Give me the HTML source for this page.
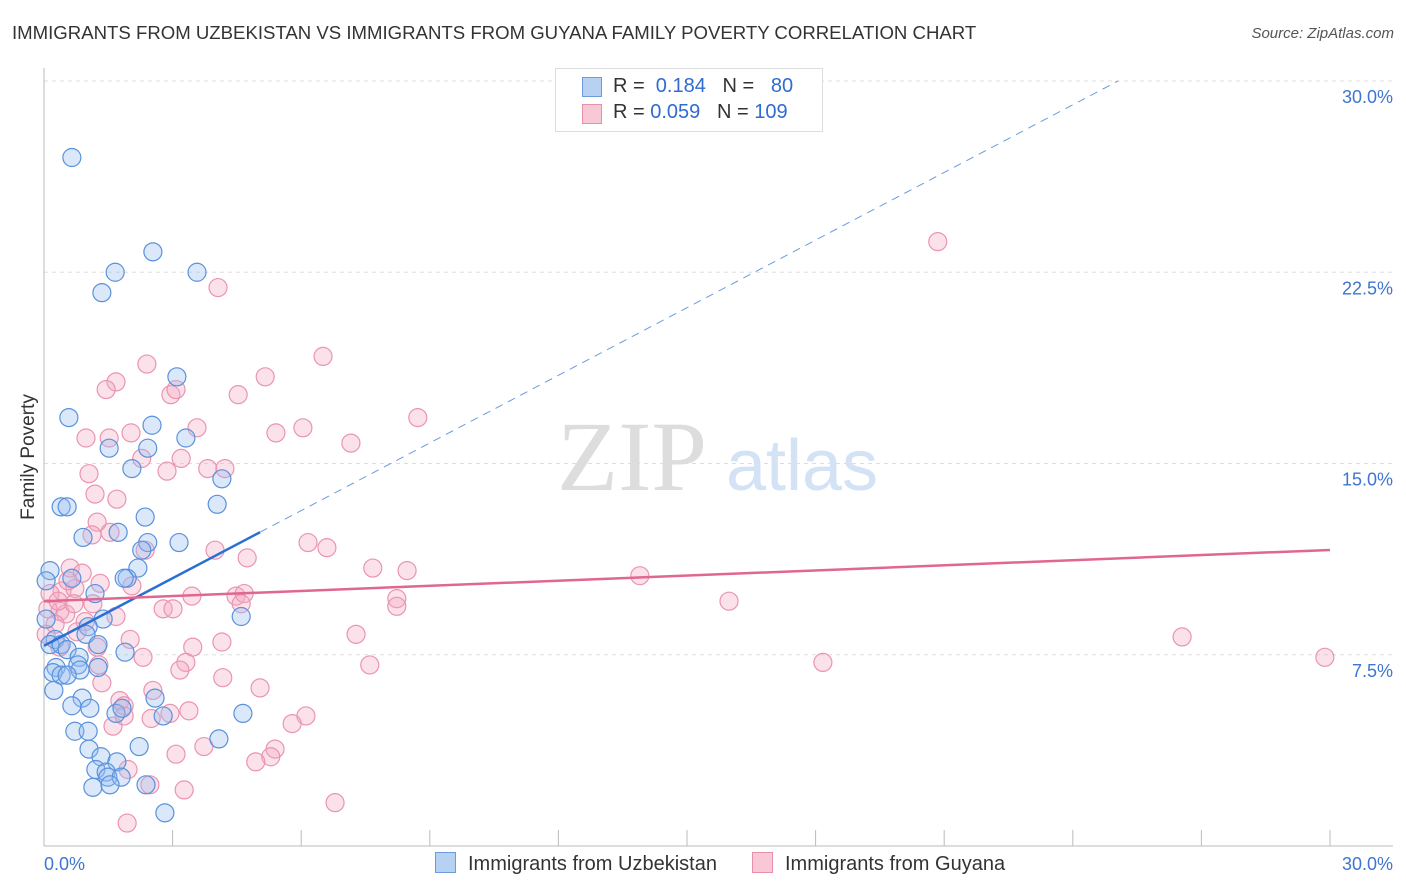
<!DOCTYPE html>
<html><head><meta charset="utf-8"><style>
body{margin:0;background:#fff;font-family:"Liberation Sans",sans-serif}
#c{position:relative;width:1406px;height:892px;overflow:hidden}
.t{position:absolute;white-space:nowrap}
</style></head><body>
<div id="c">
<div class="t" style="left:12px;top:22px;font-size:18.6px;color:#333">IMMIGRANTS FROM UZBEKISTAN VS IMMIGRANTS FROM GUYANA FAMILY POVERTY CORRELATION CHART</div>
<div class="t" style="right:12px;top:25px;font-size:15px;color:#555;font-style:italic">Source: ZipAtlas.com</div>
<svg id="s" width="1406" height="892" style="position:absolute;left:0;top:0"></svg>
</div>
<script>
const xMax=30, yMax=30;
const yTicks=[7.5,15,22.5,30];
const yTickLabels=["7.5%","15.0%","22.5%","30.0%"];
const xTickLabels=["0.0%","30.0%"];
const blueX=[0.65,2.54,1.66,3.57,1.35,3.1,0.58,2.52,3.31,2.42,1.52,2.05,4.15,4.04,0.4,0.54,2.36,1.73,0.91,3.15,2.42,2.28,2.19,1.94,1.87,0.14,0.65,1.19,4.6,1.38,1.03,0.98,0.26,0.14,0.4,1.26,0.54,1.89,0.82,0.79,0.28,0.21,0.84,0.4,0.54,1.26,0.23,0.89,0.65,2.59,1.07,1.68,1.82,2.78,4.64,0.72,1.03,4.08,1.05,2.22,1.33,1.7,1.21,1.45,1.49,1.8,1.14,1.54,2.38,2.82,0.05,0.05];
const blueY=[27.0,23.3,22.5,22.5,21.7,18.4,16.8,16.5,16.0,15.6,15.6,14.8,14.4,13.4,13.3,13.3,12.9,12.3,12.1,11.9,11.9,11.6,10.9,10.5,10.5,10.8,10.5,9.9,9.0,8.9,8.6,8.3,8.1,7.9,7.9,7.9,7.7,7.6,7.4,7.1,7.0,6.8,6.9,6.7,6.7,7.0,6.1,5.8,5.5,5.8,5.4,5.2,5.4,5.1,5.2,4.5,4.5,4.2,3.8,3.9,3.5,3.3,3.0,2.9,2.7,2.7,2.3,2.4,2.4,1.3,8.9,10.4];
const pinkX=[20.85,4.06,6.51,2.4,5.16,1.68,1.45,2.96,3.08,4.53,8.72,0.98,1.52,2.03,3.57,5.41,6.04,7.16,2.28,3.2,1.05,2.87,3.82,4.22,1.19,1.7,1.24,1.12,1.54,2.36,3.99,4.74,6.16,6.6,7.67,8.47,13.9,0.61,0.89,1.31,2.05,0.42,0.14,0.72,3.45,4.48,4.67,8.23,8.23,15.98,1.14,0.37,0.51,1.68,2.78,3.01,4.6,0.26,0.96,7.28,26.55,2.01,4.15,0.37,1.24,3.47,2.31,3.31,1.28,7.6,18.17,29.88,3.17,4.17,1.35,2.54,5.04,1.77,1.87,3.38,2.94,6.11,5.79,1.61,1.87,2.5,3.73,3.08,5.39,5.29,4.94,1.96,2.47,3.27,6.79,1.94,0.56,0.09,0.05,0.33,0.77,0.7];
const pinkY=[23.7,21.9,19.2,18.9,18.4,18.2,17.9,17.7,17.9,17.7,16.8,16.0,16.0,16.2,16.4,16.2,16.4,15.8,15.2,15.2,14.6,14.7,14.8,14.8,13.8,13.6,12.7,12.2,12.3,11.6,11.6,11.3,11.9,11.7,10.9,10.8,10.6,10.9,10.7,10.3,10.2,10.0,9.9,10.1,9.8,9.8,9.9,9.7,9.4,9.6,9.5,9.2,9.1,9.0,9.3,9.3,9.5,8.7,8.8,8.3,8.2,8.1,8.0,7.8,7.8,7.8,7.4,7.2,7.1,7.1,7.2,7.4,6.9,6.6,6.4,6.1,6.2,5.7,5.5,5.3,5.2,5.1,4.8,4.7,5.1,5.0,3.9,3.6,3.8,3.5,3.3,3.0,2.4,2.2,1.7,0.9,10.4,9.3,8.3,9.6,8.4,9.5];
const blueTrend=[7.85,0.884], pinkTrend=[9.6,0.067];
const X0=44,X1=1330,Y0=846,Y1=81;
const sx=v=>X0+v/xMax*(X1-X0), sy=v=>Y0-v/yMax*(Y0-Y1);
const s=document.getElementById('s');const NS='http://www.w3.org/2000/svg';
function mk(t,a){const e=document.createElementNS(NS,t);for(const k in a)e.setAttribute(k,a[k]);s.appendChild(e);return e;}
yTicks.forEach((v,i)=>{
 const g=mk('line',{x1:44,x2:1393,y1:sy(v),y2:sy(v),stroke:'#ddd','stroke-dasharray':'4,4'});
 
 
 const t=mk('text',{x:1393,y:sy(v)+22,'text-anchor':'end','font-size':18,fill:'#3f75d0'});t.textContent=yTickLabels[i];
 
 
});
const ax=mk('line',{x1:44,x2:44,y1:68,y2:846,stroke:'#bbb'});


const bx=mk('line',{x1:44,x2:1393,y1:846,y2:846,stroke:'#bbb'});


for(let i=0;i<=10;i++){const x=sx(i*3);const tk=mk('line',{x1:x,x2:x,y1:830,y2:846,stroke:'#bbb'});
 
 }
[[0,44,'start'],[1,1393,'end']].forEach(([i,x,a])=>{const t=mk('text',{x:x,y:870,'text-anchor':a,'font-size':18,fill:'#3f75d0'});t.textContent=xTickLabels[i];
 
 });
const yt=mk('text',{x:34,y:457,'text-anchor':'middle','font-size':19,fill:'#333',transform:'rotate(-90 34 457)'});yt.textContent='Family Poverty';


const w1=mk('text',{x:632,y:490,'text-anchor':'middle','font-size':100,fill:'#ddd','font-family':'Liberation Serif'});w1.textContent='ZIP';


const w2=mk('text',{x:802,y:490,'text-anchor':'middle','font-size':72,fill:'#d4e2f5'});w2.textContent='atlas';


pinkX.forEach((x,i)=>{const c=mk('circle',{cx:sx(x),cy:sy(pinkY[i]),r:9,fill:'rgba(244,170,195,0.35)',stroke:'#eb94b2','stroke-width':1.2});
 
 });
blueX.forEach((x,i)=>{const c=mk('circle',{cx:sx(x),cy:sy(blueY[i]),r:9,fill:'rgba(150,190,240,0.35)',stroke:'#5a91dc','stroke-width':1.2});
 
 });
const xe=5.04, xd=(yMax-blueTrend[0])/blueTrend[1];
const l1=mk('line',{x1:sx(0),y1:sy(blueTrend[0]),x2:sx(xe),y2:sy(blueTrend[0]+blueTrend[1]*xe),stroke:'#2a6fd6','stroke-width':2.5});


const l2=mk('line',{x1:sx(xe),y1:sy(blueTrend[0]+blueTrend[1]*xe),x2:sx(xd),y2:sy(yMax),stroke:'#6a9be0','stroke-width':1,'stroke-dasharray':'8,6'});


const l3=mk('line',{x1:sx(0),y1:sy(pinkTrend[0]),x2:sx(30),y2:sy(pinkTrend[0]+pinkTrend[1]*30),stroke:'#e0678f','stroke-width':2.5});


</script>
<div class="t" style="left:555px;top:68px;width:266px;height:62px;border:1px solid #ddd;background:#fff;font-size:20px;color:#333">
 <div style="position:absolute;left:26px;top:8px;width:18px;height:18px;background:#b7d1f3;border:1px solid #6d9be0"></div>
 <div style="position:absolute;left:57px;top:6px">R = <span style="color:#2f6bd0">&nbsp;0.184</span>&nbsp;&nbsp;&nbsp;N = <span style="color:#2f6bd0">&nbsp;&nbsp;80</span></div>
 <div style="position:absolute;left:26px;top:35px;width:18px;height:18px;background:#f8c8d7;border:1px solid #e88fab"></div>
 <div style="position:absolute;left:57px;top:32px">R = <span style="color:#2f6bd0">0.059</span>&nbsp;&nbsp;&nbsp;N = <span style="color:#2f6bd0">109</span></div>
</div>
<div class="t" style="left:435px;top:852px;font-size:20px;color:#333"><span style="display:inline-block;width:19px;height:19px;background:#b7d1f3;border:1px solid #6d9be0;vertical-align:-3px;margin-right:12px"></span>Immigrants from Uzbekistan</div>
<div class="t" style="left:752px;top:852px;font-size:20px;color:#333"><span style="display:inline-block;width:19px;height:19px;background:#f8c8d7;border:1px solid #e88fab;vertical-align:-3px;margin-right:12px"></span>Immigrants from Guyana</div>
</body></html>
